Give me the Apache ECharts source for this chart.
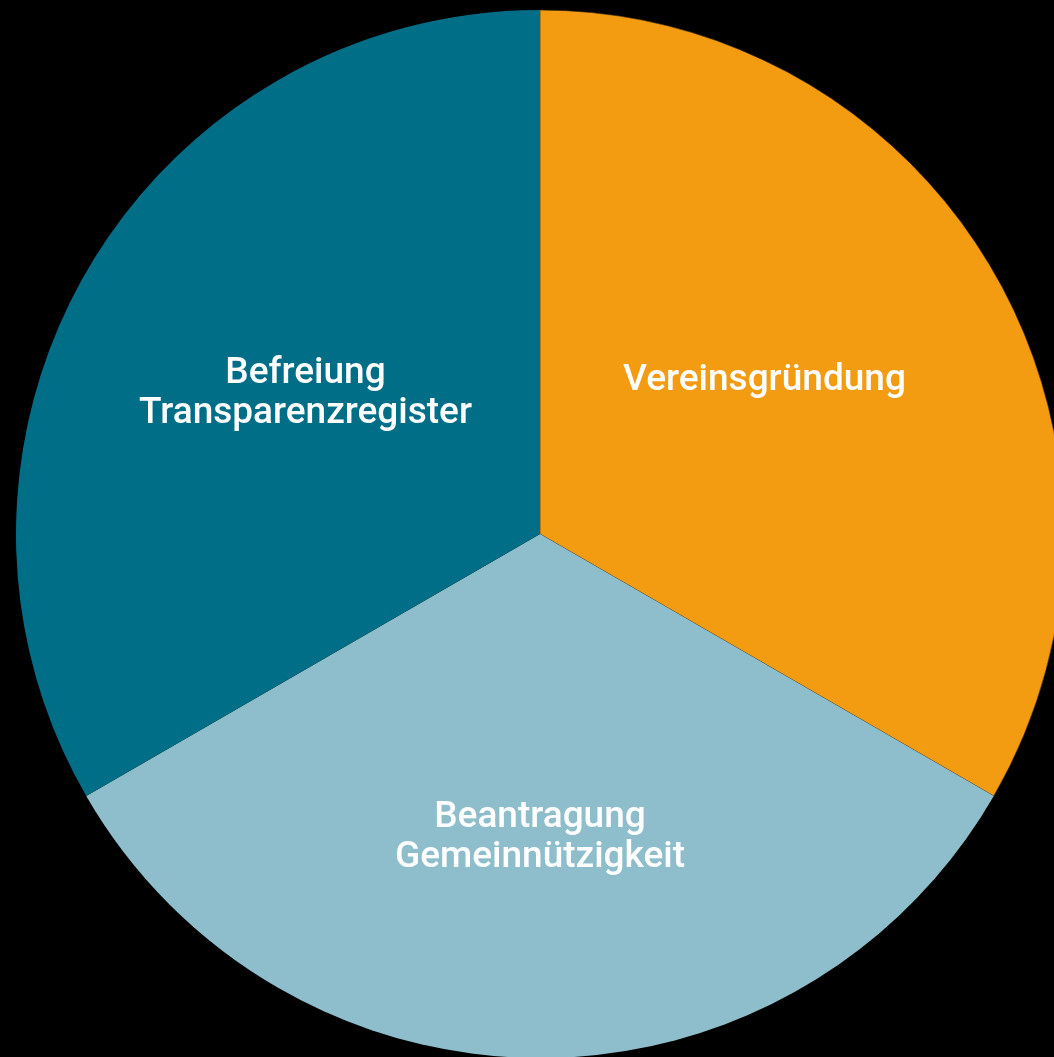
<!DOCTYPE html>
<html>
<head>
<meta charset="utf-8">
<script src="https://cdn.jsdelivr.net/npm/echarts@6/dist/echarts.min.js"></script>
<style>
  html, body { margin: 0; padding: 0; background: #000; }
  #chart { width: 1054px; height: 1057px; }
</style>
</head>
<body>
<div id="chart"></div>
<script>
var categories = ['Vereinsgründung', 'Beantragung\nGemeinnützigkeit', 'Befreiung\nTransparenzregister'];
var values = [1, 1, 1];
var colors = ['#F39B11', '#8EBECB', '#006E87'];
var labelOffsets = [[-5, -21], [0, 39], [-5, -8]];

var myChart = echarts.init(document.getElementById('chart'));
var option = {
    backgroundColor: '#000',
    animation: false,
    series: [
        {
            type: 'pie',
            center: [540, 534],
            radius: [0, 524],
            startAngle: 90,
            clockwise: true,
            data: categories.map(function (name, i) {
                return {
                    name: name,
                    value: values[i],
                    itemStyle: {
                        color: colors[i],
                        borderColor: i === 0 ? '#3a2a10' : colors[i],
                        borderWidth: i === 0 ? 0.6 : 0
                    },
                    label: { offset: labelOffsets[i] }
                };
            }),
            label: {
                show: true,
                position: 'inside',
                color: '#fff',
                fontFamily: 'Roboto',
                fontWeight: 500,
                fontSize: 37,
                lineHeight: 40,
                align: 'center',
                formatter: '{b}'
            },
            labelLine: { show: false },
            emphasis: { disabled: true }
        }
    ]
};
myChart.setOption(option, true);
</script>
</body>
</html>
